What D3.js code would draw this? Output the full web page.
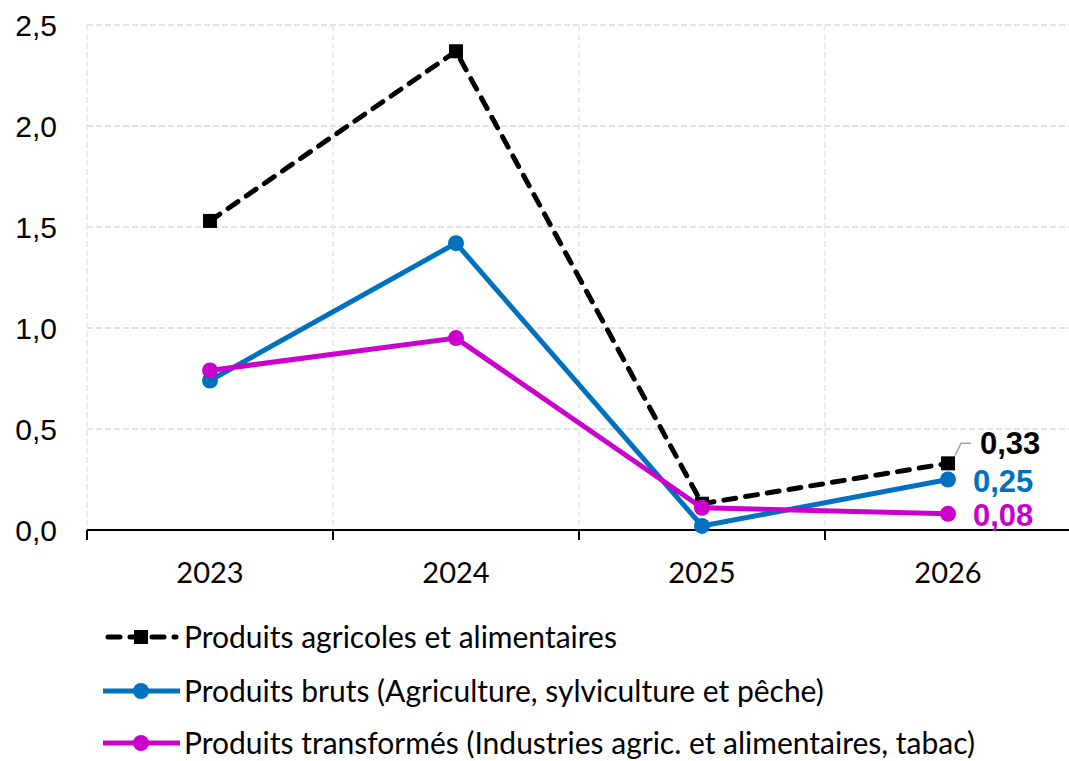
<!DOCTYPE html>
<html>
<head>
<meta charset="utf-8">
<script src="https://cdn.jsdelivr.net/npm/d3@7"></script>
<style>
  body { margin: 0; background: #fff; }
</style>
</head>
<body>
<div id="chart"></div>
<script>
// data
const years = ['2023', '2024', '2025', '2026'];
const yTicks = [0, 0.5, 1, 1.5, 2, 2.5];
const agricoles = [1.53, 2.37, 0.13, 0.33];
const bruts = [0.74, 1.42, 0.02, 0.25];
const transformes = [0.79, 0.95, 0.11, 0.08];
const seriesNames = [
  'Produits agricoles et alimentaires',
  'Produits bruts (Agriculture, sylviculture et pêche)',
  'Produits transformés (Industries agric. et alimentaires, tabac)'
];
const endLabels = ['0,33', '0,25', '0,08'];

const W = 1069, H = 761;
const margin = { left: 87, right: -2, top: 25, bottom: 231 };

const svg = d3.select('#chart').append('svg')
  .attr('width', W).attr('height', H);

const x = d3.scaleBand().domain(years)
  .range([margin.left, W - margin.right]);
const y = d3.scaleLinear().domain([0, 2.5])
  .range([H - margin.bottom, margin.top]);

const fmt = v => d3.format('.1f')(v).replace('.', ',');

// gridlines
svg.append('g').selectAll('line.h')
  .data(yTicks.filter(d => d > 0))
  .join('line')
  .attr('x1', margin.left).attr('x2', W)
  .attr('y1', d => y(d)).attr('y2', d => y(d))
  .attr('stroke', '#d9d9d9').attr('stroke-width', 1.5)
  .attr('stroke-dasharray', '6,3');

svg.append('g').selectAll('line.v')
  .data(years)
  .join('line')
  .attr('x1', d => x(d)).attr('x2', d => x(d))
  .attr('y1', y(2.5)).attr('y2', y(0))
  .attr('stroke', '#e6e6e6').attr('stroke-width', 1.5)
  .attr('stroke-dasharray', '6,3');

// y axis labels
svg.append('g').selectAll('text')
  .data(yTicks)
  .join('text')
  .attr('x', 57).attr('y', d => y(d))
  .attr('dy', '0.36em')
  .attr('text-anchor', 'end')
  .attr('font-family', 'Liberation Sans, Arial, sans-serif')
  .attr('font-size', 30)
  .attr('fill', '#000')
  .text(fmt);

// x axis
const xAxis = svg.append('g')
  .attr('transform', `translate(0,${y(0)})`);
xAxis.append('line')
  .attr('x1', margin.left).attr('x2', W)
  .attr('stroke', '#000').attr('stroke-width', 2);
xAxis.selectAll('line.tick')
  .data(years)
  .join('line')
  .attr('class', 'tick')
  .attr('x1', d => x(d)).attr('x2', d => x(d))
  .attr('y1', 0).attr('y2', 10)
  .attr('stroke', '#000').attr('stroke-width', 2);
xAxis.selectAll('text')
  .data(years)
  .join('text')
  .attr('x', d => x(d) + x.bandwidth() / 2)
  .attr('y', 53)
  .attr('text-anchor', 'middle')
  .attr('font-family', 'Lato, Open Sans, sans-serif')
  .attr('font-size', 29)
  .attr('fill', '#000')
  .text(d => d);

const cx = (d, i) => x(years[i]) + x.bandwidth() / 2;
const line = d3.line().x(cx).y(d => y(d));

const series = [
  { values: agricoles, color: '#000000', dash: '12,10', marker: 'square' },
  { values: bruts, color: '#0070C0', dash: null, marker: 'circle' },
  { values: transformes, color: '#CC00CC', dash: null, marker: 'circle' }
];

series.forEach(s => {
  svg.append('path')
    .datum(s.values)
    .attr('d', line)
    .attr('fill', 'none')
    .attr('stroke', s.color)
    .attr('stroke-width', 5)
    .attr('stroke-linecap', s.dash ? 'round' : 'butt')
    .attr('stroke-dasharray', s.dash);

  if (s.marker === 'square') {
    svg.append('g').selectAll('rect')
      .data(s.values)
      .join('rect')
      .attr('x', (d, i) => cx(d, i) - 7)
      .attr('y', d => y(d) - 7)
      .attr('width', 14).attr('height', 14)
      .attr('fill', s.color);
  } else {
    svg.append('g').selectAll('circle')
      .data(s.values)
      .join('circle')
      .attr('cx', cx)
      .attr('cy', d => y(d))
      .attr('r', 8)
      .attr('fill', s.color);
  }
});

// end labels
const last = years.length - 1;
const lx = cx(null, last);
// leader line for black label
svg.append('polyline')
  .attr('points', `${lx + 7},${y(agricoles[last]) - 8} ${lx + 13},${y(agricoles[last]) - 20} ${lx + 23},${y(agricoles[last]) - 20}`)
  .attr('fill', 'none').attr('stroke', '#a6a6a6').attr('stroke-width', 1.5);

const labelPos = [
  { dx: 32, dy: -21 },
  { dx: 25, dy: 1 },
  { dx: 25, dy: 1 }
];
series.forEach((s, k) => {
  svg.append('text')
    .attr('x', lx + labelPos[k].dx)
    .attr('y', y(s.values[last]) + labelPos[k].dy)
    .attr('dy', '0.36em')
    .attr('font-family', 'Liberation Sans, Arial, sans-serif')
    .attr('font-weight', 'bold')
    .attr('font-size', 31)
    .attr('fill', s.color)
    .text(endLabels[k]);
});

// legend
const legendY = [637, 691, 743];
series.forEach((s, k) => {
  const g = svg.append('g').attr('transform', `translate(0,${legendY[k]})`);
  g.append('line')
    .attr('x1', s.dash ? 108 : 103).attr('x2', s.dash ? 176 : 180)
    .attr('stroke', s.color).attr('stroke-width', 5)
    .attr('stroke-linecap', s.dash ? 'round' : 'butt')
    .attr('stroke-dasharray', s.dash);
  if (s.marker === 'square') {
    g.append('rect').attr('x', 134).attr('y', -7)
      .attr('width', 14).attr('height', 14).attr('fill', s.color);
  } else {
    g.append('circle').attr('cx', 141).attr('r', 8).attr('fill', s.color);
  }
  g.append('text')
    .attr('x', 184).attr('dy', '0.36em')
    .attr('font-family', 'Lato, Open Sans, sans-serif')
    .attr('font-size', 30)
    .attr('fill', '#000')
    .text(seriesNames[k]);
});
</script>
</body>
</html>
